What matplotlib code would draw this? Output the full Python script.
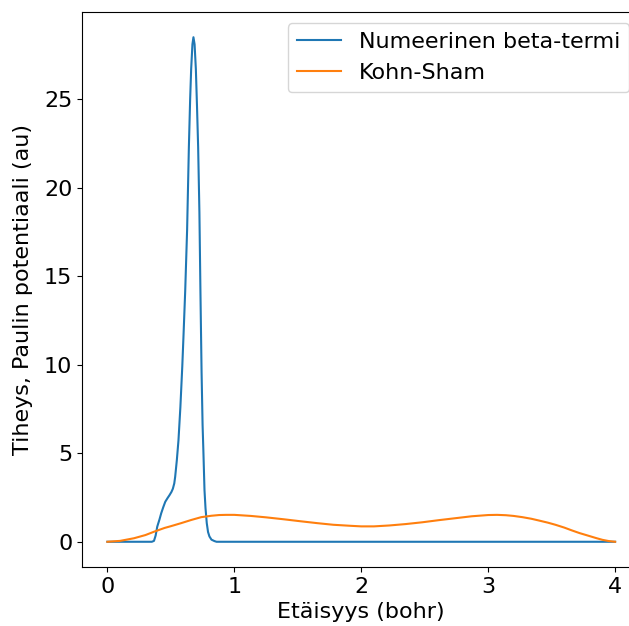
import matplotlib
matplotlib.use("Agg")
import matplotlib.pyplot as plt

# Numeerinen beta-termi (blue)
beta_x = [0.0, 0.30, 0.35, 0.367, 0.38, 0.393, 0.41, 0.424, 0.44, 0.456, 0.475,
          0.49, 0.505, 0.516, 0.527, 0.534, 0.547, 0.56, 0.575, 0.59, 0.60, 0.613,
          0.628, 0.642, 0.652, 0.66, 0.67, 0.678, 0.687, 0.697, 0.706, 0.715,
          0.725, 0.733, 0.742, 0.750, 0.756, 0.765, 0.773, 0.783, 0.793, 0.804,
          0.82, 0.843, 0.86, 0.9, 4.0]
beta_y = [0.0, 0.0, 0.0, 0.05, 0.35, 0.86, 1.25, 1.61, 1.95, 2.26, 2.48,
          2.64, 2.82, 3.0, 3.3, 3.67, 4.6, 5.73, 7.6, 9.9, 11.7, 14.16,
          17.6, 22.3, 25.0, 26.7, 28.1, 28.5, 28.1, 26.7, 24.6, 22.3,
          18.6, 14.16, 9.6, 6.6, 5.2, 2.92, 1.9, 1.05, 0.55, 0.3,
          0.12, 0.04, 0.0, 0.0, 0.0]

# Kohn-Sham (orange)
ks_x = [0.0, 0.1, 0.21, 0.3, 0.372, 0.45, 0.5, 0.58, 0.66, 0.739, 0.82, 0.88, 0.935,
        1.0, 1.13, 1.25, 1.39, 1.52, 1.656, 1.78, 1.92, 2.0, 2.1, 2.22, 2.35,
        2.48, 2.61, 2.74, 2.87, 3.0, 3.07, 3.14, 3.2, 3.27, 3.34, 3.40, 3.47,
        3.53, 3.6, 3.66, 3.72, 3.79, 3.85, 3.9, 3.95, 4.0]
ks_y = [0.0, 0.05, 0.2, 0.38, 0.58, 0.78, 0.88, 1.05, 1.23, 1.39, 1.47, 1.51, 1.52,
        1.52, 1.46, 1.38, 1.27, 1.16, 1.05, 0.96, 0.9, 0.87, 0.87, 0.92, 1.0,
        1.1, 1.22, 1.33, 1.44, 1.51, 1.52, 1.5, 1.46, 1.39, 1.3, 1.2, 1.08,
        0.96, 0.8, 0.64, 0.49, 0.34, 0.21, 0.11, 0.04, 0.0]

plt.rcParams['font.size'] = 16

fig = plt.figure(figsize=(6.29, 6.26), dpi=100)
W, H = 629, 626
left, right, top, bottom = 82, 640.5, 12, 567
ax = fig.add_axes([left / W, (H - bottom) / H, (right - left) / W, (bottom - top) / H])

ax.plot(beta_x, beta_y, label="Numeerinen beta-termi")
ax.plot(ks_x, ks_y, label="Kohn-Sham")
ax.set_xlabel("Etäisyys (bohr)")
ax.set_ylabel("Tiheys, Paulin potentiaali (au)", labelpad=7.5)
ax.legend(loc="upper right")

fig.savefig("out.png", dpi=100)
